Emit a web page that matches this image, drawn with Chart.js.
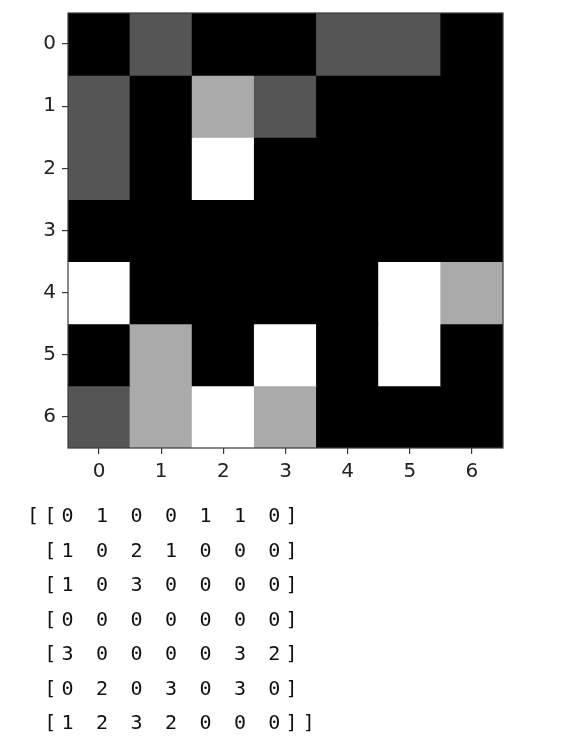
<!DOCTYPE html>
<html>
<head>
<meta charset="utf-8">
<script src="https://cdn.jsdelivr.net/npm/chart.js@4/dist/chart.umd.min.js"></script>
<style>
  html, body { margin: 0; padding: 0; background: #fff; }
  body { width: 578px; height: 748px; position: relative; overflow: hidden; }
  #wrap { position: absolute; left: 0; top: 0; width: 578px; height: 500px; }
  #matrix {
    position: absolute; left: 27px; top: 498px; margin: 0;
    font-family: "DejaVu Sans Mono", monospace; font-size: 20px;
    line-height: 34.5px; letter-spacing: 5.2px; color: #111;
  }
</style>
</head>
<body>
<div id="wrap"><canvas id="c"></canvas></div>
<pre id="matrix"></pre>
<script>
// Data
const xLabels = ['0', '1', '2', '3', '4', '5', '6'];
const yTicks = [0, 1, 2, 3, 4, 5, 6];
const row0 = [0, 1, 0, 0, 1, 1, 0];
const row1 = [1, 0, 2, 1, 0, 0, 0];
const row2 = [1, 0, 3, 0, 0, 0, 0];
const row3 = [0, 0, 0, 0, 0, 0, 0];
const row4 = [3, 0, 0, 0, 0, 3, 2];
const row5 = [0, 2, 0, 3, 0, 3, 0];
const row6 = [1, 2, 3, 2, 0, 0, 0];
const rows = [row0, row1, row2, row3, row4, row5, row6];
const vmax = 3;

function gray(v) {
  const g = Math.round(v / vmax * 255);
  return `rgb(${g},${g},${g})`;
}

const datasets = rows.map((row, r) => ({
  label: 'row ' + r,
  data: row.map(() => [r - 0.5, r + 0.5]),
  backgroundColor: row.map(gray),
  borderWidth: 0,
  inflateAmount: 0.5,
  barPercentage: 1,
  categoryPercentage: 1,
  grouped: false
}));

const frame = {
  id: 'frame',
  afterDatasetsDraw(chart) {
    const { ctx, chartArea: a } = chart;
    ctx.save();
    ctx.strokeStyle = '#3a3a3a';
    ctx.lineWidth = 1.2;
    ctx.strokeRect(a.left, a.top, a.right - a.left, a.bottom - a.top);
    ctx.restore();
  }
};

new Chart(document.getElementById('c'), {
  type: 'bar',
  data: { labels: xLabels, datasets },
  options: {
    responsive: true,
    maintainAspectRatio: false,
    animation: false,
    layout: { padding: { left: 0, top: 13, right: 75, bottom: 0 } },
    plugins: { legend: { display: false }, tooltip: { enabled: false } },
    scales: {
      x: {
        type: 'category',
        offset: true,
        grid: { display: true, drawOnChartArea: false, drawTicks: true, tickLength: 6, color: '#3a3a3a', lineWidth: 1.2, offset: false },
        border: { display: false },
        ticks: { color: '#222', font: { family: 'DejaVu Sans', size: 20 }, padding: 6, maxRotation: 0 },
        afterFit(s) { s.height = 52; s.paddingLeft = 0; s.paddingRight = 0; }
      },
      y: {
        type: 'linear',
        min: -0.5, max: 6.5,
        reverse: true,
        grid: { display: true, drawOnChartArea: false, drawTicks: true, tickLength: 6, color: '#3a3a3a', lineWidth: 1.2 },
        border: { display: false },
        ticks: { color: '#222', font: { family: 'DejaVu Sans', size: 20 }, padding: 6 },
        afterBuildTicks(s) { s.ticks = yTicks.map(v => ({ value: v })); },
        afterFit(s) { s.width = 68; s.paddingTop = 0; s.paddingBottom = 0; }
      }
    }
  },
  plugins: [frame]
});

// printed matrix
const lines = rows.map((row, i) => (i === 0 ? '[[' : ' [') + row.join(' ') + ']' + (i === rows.length - 1 ? ']' : ''));
document.getElementById('matrix').textContent = lines.join('\n');
</script>
</body>
</html>
